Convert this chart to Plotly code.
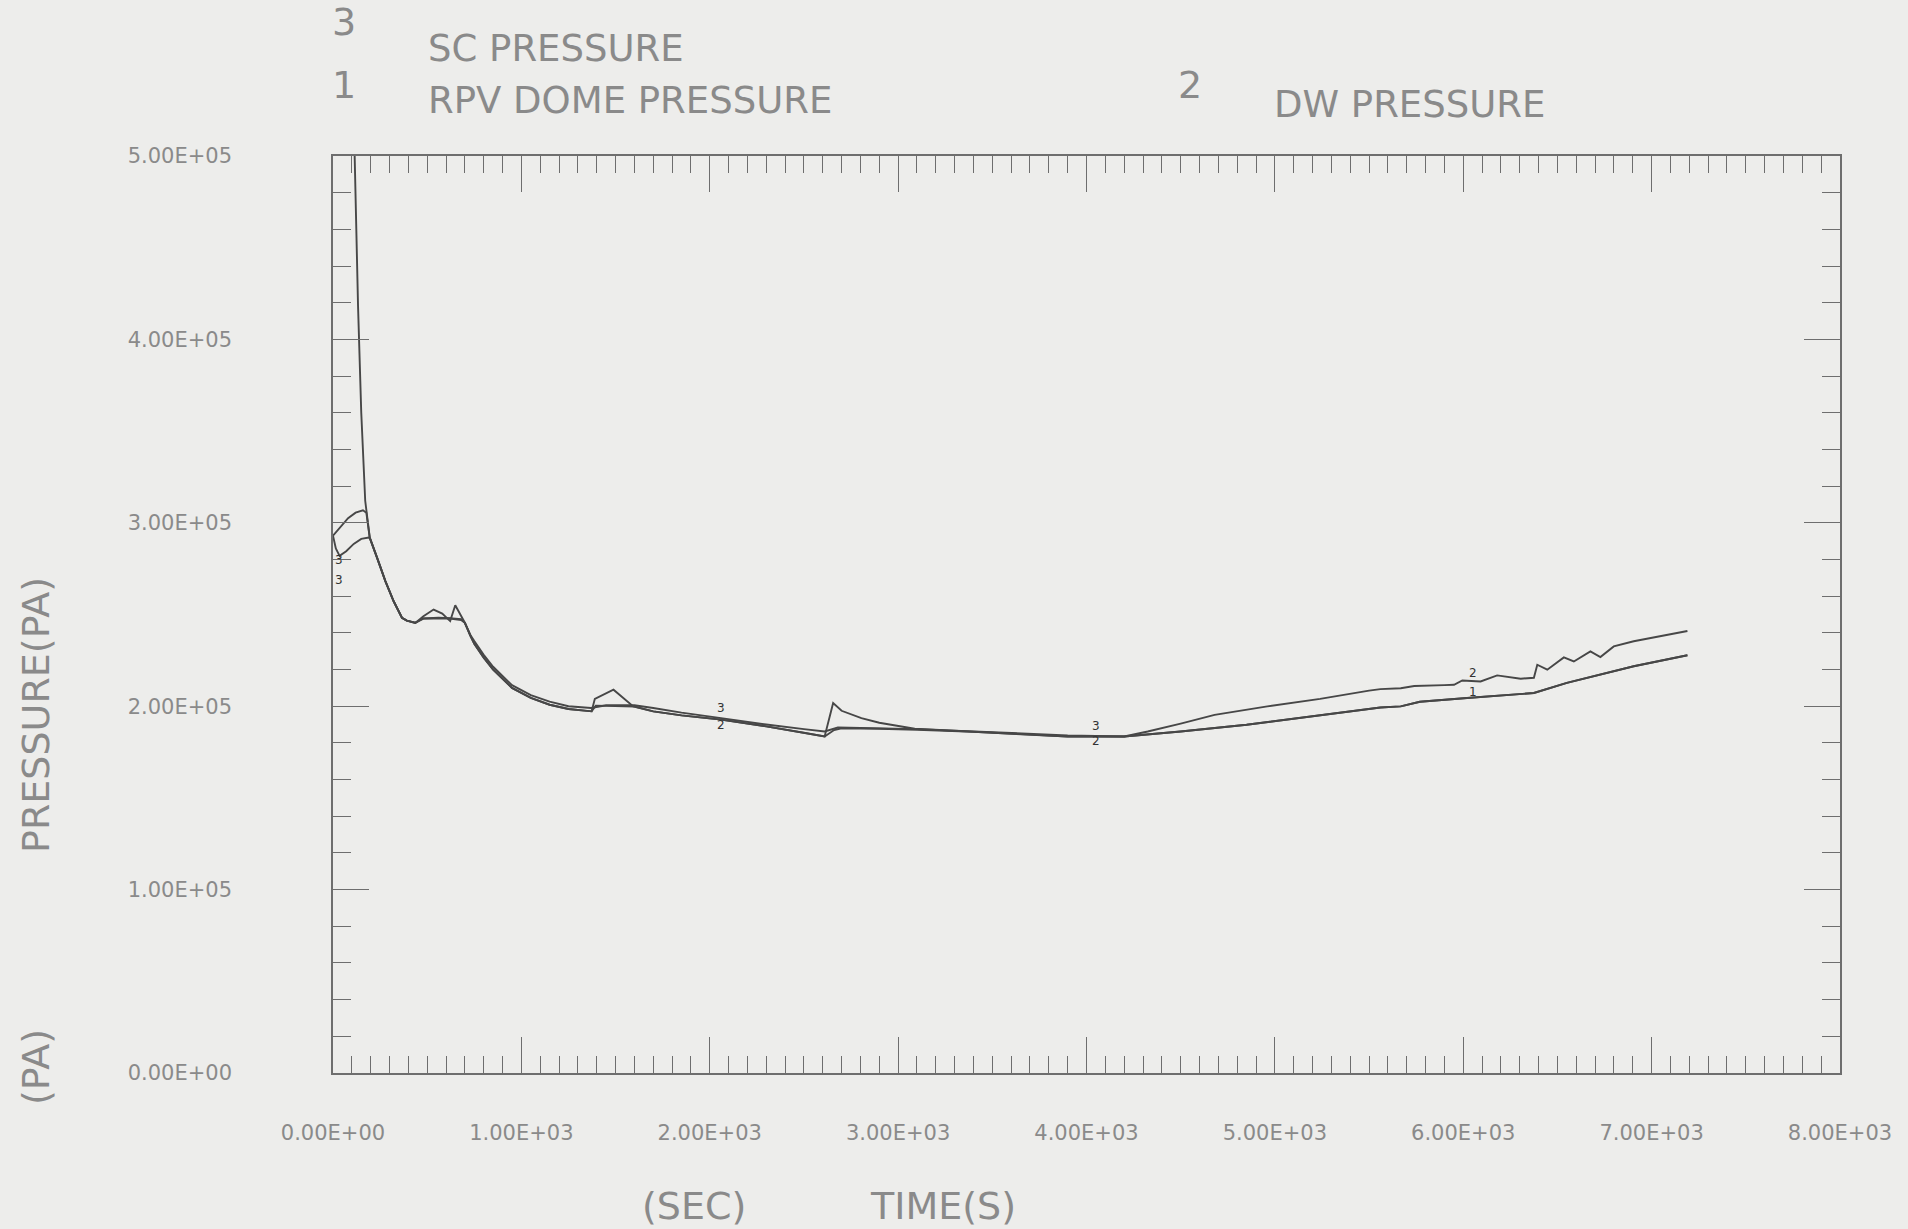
import numpy as np
import plotly.graph_objects as go

# ---------------- data (pressure in kPa, time in s) ----------------
t_rpv = [0, 40, 80, 115, 133, 150, 171, 195, 234, 278, 322, 366, 392, 437, 480, 534, 580, 622, 649, 675,
         700, 728, 750, 800, 850, 950, 1050, 1150, 1250, 1373, 1390, 1489, 1594, 1700, 1850, 2060, 2300,
         2500, 2610, 2655, 2700, 2805, 2900, 3088, 3400, 3650, 3900, 4200, 4500, 4850, 5200, 5560, 5668,
         5770, 6020, 6375, 6550, 6905, 7190]
p_rpv = [7000, 2500, 900, 500, 418, 360, 312, 292, 281, 268.2, 257.2, 248.2, 246.7, 245.4, 249, 252.7,
         250.5, 246.4, 255, 250, 245.5, 239, 234, 226.5, 220, 210, 204.5, 200.8, 198.5, 197.2, 204, 209,
         199.9, 197.2, 195, 192.7, 189, 185.5, 183.5, 201.7, 197.5, 193.5, 191, 187.7, 186, 184.8, 183.5,
         183.5, 186.2, 189.9, 194.4, 199.3, 199.9, 202.4, 204.5, 207.2, 212.7, 221.8, 227.8]

t_dw = [0, 40, 80, 120, 159, 177, 195, 234, 278, 322, 366, 392, 437, 480, 560, 620, 680, 700, 728, 750,
        800, 850, 950, 1050, 1150, 1250, 1370, 1450, 1600, 1700, 1850, 2060, 2300, 2500, 2610, 2680, 2900,
        3100, 3400, 3650, 3900, 4200, 4325, 4500, 4680, 4960, 5240, 5500, 5560, 5668, 5740, 5900, 5951,
        5995, 6092, 6180, 6305, 6375, 6393, 6446, 6534, 6587, 6675, 6728, 6799, 6905, 7050, 7190]
p_dw = [293, 298, 302.5, 305.5, 306.8, 305.5, 292, 281, 268.2, 257.2, 248.2, 246.7, 245.6, 247.8, 248.2,
        248, 247.5, 245.5, 239, 235.5, 228, 221.5, 211.5, 206, 202.5, 200, 199, 200.5, 200.5, 199, 196.5,
        193.5, 190, 187.5, 186.2, 188.4, 188, 187.5, 186.3, 185.3, 184, 183.5, 186.2, 190.5, 195.3, 199.9,
        204, 208.5, 209.3, 209.8, 211, 211.5, 211.7, 214, 213.5, 216.8, 215, 215.5, 222.6, 219.9, 226.6,
        224.4, 229.9, 226.8, 232.6, 235.4, 238.3, 241]

t_sc = [0, 15, 35, 70, 110, 150, 190, 195, 234, 278, 322, 366, 392, 437, 480, 560, 620, 680, 700, 728,
        750, 800, 850, 950, 1050, 1150, 1250, 1373, 1395, 1600, 1700, 1850, 2060, 2300, 2500, 2610, 2660,
        2700, 2900, 3100, 3400, 3650, 3900, 4200, 4500, 4850, 5200, 5560, 5668, 5770, 6020, 6375, 6550,
        6905, 7190]
p_sc = [293, 286, 282, 284.5, 288.5, 291.2, 292, 291.8, 281, 268.2, 257.2, 248.2, 246.7, 245.4, 247.8,
        248, 247.8, 247, 245.5, 238.5, 234, 226.5, 220, 210, 204.5, 200.8, 198.5, 197.2, 200.3, 199.8,
        197.2, 195, 192.7, 189, 185.5, 183.5, 187, 188, 187.7, 187.2, 186, 184.8, 183.5, 183.5, 186.2,
        189.9, 194.4, 199.3, 199.9, 202.4, 204.5, 207.2, 212.7, 221.8, 227.8]

x_tickvals = [0, 1000, 2000, 3000, 4000, 5000, 6000, 7000, 8000]
x_ticktext = ["0.00E+00", "1.00E+03", "2.00E+03", "3.00E+03", "4.00E+03",
              "5.00E+03", "6.00E+03", "7.00E+03", "8.00E+03"]
y_tickvals = [0, 100000, 200000, 300000, 400000, 500000]
y_ticktext = ["0.00E+00", "1.00E+05", "2.00E+05", "3.00E+05", "4.00E+05", "5.00E+05"]

# curve-number markers drawn on the curves: (text, series, time, yshift)
marker_specs = [("3", "sc", 30, -6), ("3", "sc", 30, -26),
                ("3", "dw", 2060, 10), ("2", "sc", 2060, -5),
                ("3", "dw", 4050, 10), ("2", "sc", 4050, -5),
                ("2", "dw", 6050, 8), ("1", "sc", 6050, 6)]

# ---------------- styling ----------------
BG = "#ededeb"
LINE = "#474747"
AX = "#6e6e6e"
TXT = "#8a8a8a"
FONT = "DejaVu Sans, Liberation Sans, sans-serif"

series = {
    "rpv": (np.array(t_rpv, float), np.array(p_rpv, float) * 1000),
    "dw": (np.array(t_dw, float), np.array(p_dw, float) * 1000),
    "sc": (np.array(t_sc, float), np.array(p_sc, float) * 1000),
}

fig = go.Figure()
for key in ["sc", "dw", "rpv"]:
    tx, py = series[key]
    fig.add_trace(go.Scatter(x=tx, y=py, mode="lines",
                             line=dict(color=LINE, width=1.9), showlegend=False,
                             hoverinfo="skip"))

ann = []
for txt, key, t, ys in marker_specs:
    tx, py = series[key]
    ann.append(dict(x=t, y=float(np.interp(t, tx, py)), xref="x", yref="y", text=txt,
                    showarrow=False, yshift=ys, font=dict(family=FONT, size=12, color="#333333")))


def pt(text, x, y, size=37, xanchor="center", angle=0):
    return dict(text=text, x=x, y=y, xref="paper", yref="paper", showarrow=False,
                xanchor=xanchor, yanchor="middle", textangle=angle,
                font=dict(family=FONT, size=size, color=TXT))


ann += [
    pt("3", 0.0073, 1.1461, 38),
    pt("SC PRESSURE", 0.0617, 1.1167, xanchor="left"),
    pt("1", 0.0073, 1.0774, 38),
    pt("RPV DOME PRESSURE", 0.0617, 1.060, xanchor="left"),
    pt("2", 0.5687, 1.0774, 38),
    pt("DW PRESSURE", 0.6231, 1.0567, xanchor="left"),
    pt("PRESSURE(PA)", -0.1971, 0.3904, 38, angle=-90),
    pt("(PA)", -0.1971, 0.0065, 38, angle=-90),
    pt("(SEC)", 0.2395, -0.145, 38),
    pt("TIME(S)", 0.4048, -0.145, 38),
]

common = dict(showline=True, linecolor=AX, linewidth=1.5, mirror="allticks",
              ticks="inside", tickcolor=AX, tickwidth=1.3, ticklen=36,
              showgrid=False, zeroline=False,
              tickfont=dict(family=FONT, size=21, color=TXT))

fig.update_layout(
    width=1908, height=1229,
    paper_bgcolor=BG, plot_bgcolor=BG,
    margin=dict(l=333, r=68, t=156, b=156),
    xaxis=dict(range=[0, 8000], tickmode="array", tickvals=x_tickvals, ticktext=x_ticktext,
               minor=dict(dtick=100, tick0=0, ticks="inside", ticklen=17, tickcolor=AX,
                          tickwidth=1.1, showgrid=False),
               ticklabelstandoff=40, **common),
    yaxis=dict(range=[0, 500000], tickmode="array", tickvals=y_tickvals, ticktext=y_ticktext,
               minor=dict(dtick=20000, tick0=0, ticks="inside", ticklen=18, tickcolor=AX,
                          tickwidth=1.1, showgrid=False),
               ticklabelstandoff=95, **common),
    annotations=ann,
)

fig.write_html("out.html", config={"displayModeBar": False},
               post_script="document.body.style.margin='0';document.body.style.background='%s';" % BG)
